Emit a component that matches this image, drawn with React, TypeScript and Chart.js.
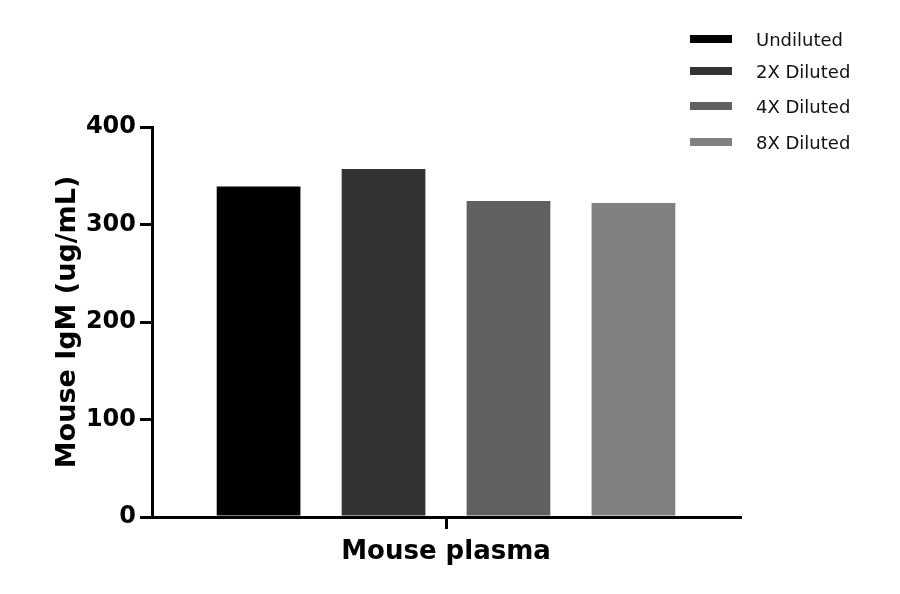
import React, { useEffect, useRef } from "react";
import { Chart, registerables } from "chart.js";

Chart.register(...registerables);

const categories = ["Mouse plasma"];
const seriesNames = ["Undiluted", "2X Diluted", "4X Diluted", "8X Diluted"];
const undiluted = [339];
const diluted2x = [357];
const diluted4x = [324];
const diluted8x = [322];
const seriesColors = ["#000000", "#333333", "#606060", "#808080"];
const yTicks = [0, 100, 200, 300, 400];
const yTitle = "Mouse IgM (ug/mL)";

const FONT = "'DejaVu Sans', sans-serif";
const legendCenters = [39, 71, 106, 142];

const App: React.FC = () => {
    const chartRef = useRef<HTMLCanvasElement | null>(null);

    useEffect(() => {
        if (!chartRef.current) return;
        const ctx = chartRef.current.getContext("2d");
        if (!ctx) return;

        const values = [undiluted, diluted2x, diluted4x, diluted8x];

        const chart = new Chart(ctx, {
            type: "bar",
            data: {
                labels: categories,
                datasets: seriesNames.map((name, i) => ({
                    label: name,
                    data: values[i],
                    backgroundColor: seriesColors[i],
                    borderWidth: 0,
                    categoryPercentage: 0.85,
                    barPercentage: 0.67,
                })),
            },
            options: {
                animation: false,
                responsive: false,
                devicePixelRatio: 1,
                layout: { padding: { left: 0, top: 127, right: 160, bottom: 0 } },
                plugins: {
                    legend: { display: false },
                    tooltip: { enabled: false },
                },
                scales: {
                    x: {
                        grid: {
                            display: true,
                            drawOnChartArea: false,
                            drawTicks: true,
                            tickLength: 12,
                            color: "#000",
                            lineWidth: 3,
                            offset: false,
                        },
                        border: { display: true, color: "#000", width: 3 },
                        ticks: {
                            color: "#000",
                            padding: 8,
                            maxRotation: 0,
                            font: { family: FONT, size: 26, weight: "bold" },
                        },
                        afterFit: (scale) => {
                            scale.height = 77;
                        },
                    },
                    y: {
                        min: yTicks[0],
                        max: yTicks[yTicks.length - 1],
                        afterBuildTicks: (scale) => {
                            scale.ticks = yTicks.map((v) => ({ value: v }));
                        },
                        grid: {
                            display: true,
                            drawOnChartArea: false,
                            drawTicks: true,
                            tickLength: 12,
                            color: "#000",
                            lineWidth: 3,
                        },
                        border: { display: true, color: "#000", width: 3 },
                        ticks: {
                            color: "#000",
                            padding: 4,
                            font: { family: FONT, size: 24, weight: "bold" },
                        },
                        title: {
                            display: true,
                            text: yTitle,
                            color: "#000",
                            padding: { top: 52, bottom: 0 },
                            font: { family: FONT, size: 27, weight: "bold" },
                        },
                        afterFit: (scale) => {
                            scale.width = 152;
                        },
                    },
                },
            },
        });

        return () => {
            chart.destroy();
        };
    }, []);

    return (
        <div style={{ position: "absolute", left: 0, top: 0, width: 900, height: 594, background: "#fff" }}>
            <canvas ref={chartRef} width={900} height={594}></canvas>
            {seriesNames.map((name, i) => (
                <div
                    key={name}
                    style={{
                        position: "absolute",
                        left: 690,
                        top: legendCenters[i] - 12,
                        height: 24,
                        display: "flex",
                        alignItems: "center",
                        fontFamily: FONT,
                        fontSize: 18,
                        color: "#111",
                    }}
                >
                    <span style={{ display: "inline-block", width: 42, height: 8, background: seriesColors[i] }}></span>
                    <span style={{ marginLeft: 24 }}>{name}</span>
                </div>
            ))}
        </div>
    );
};

export default App;
